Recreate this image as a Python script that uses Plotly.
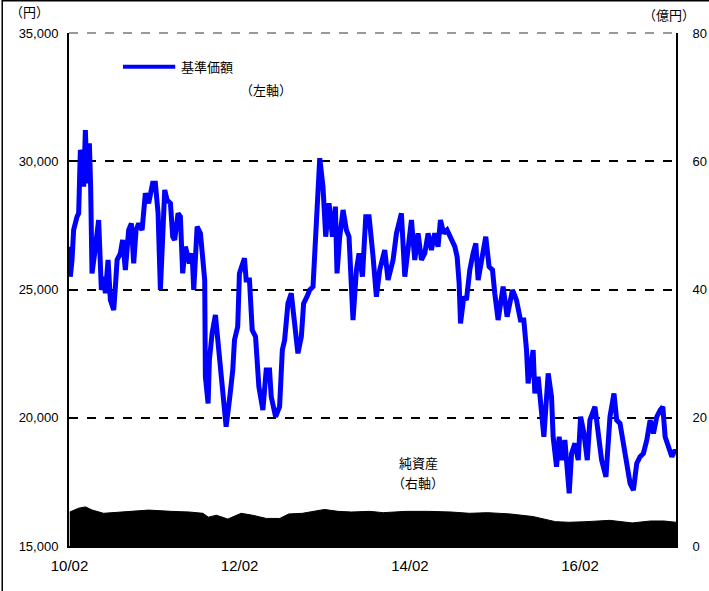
import pandas as pd
import plotly.graph_objects as go

# 基準価額 (left axis, 円); time as decimal years
nav_year = [
    2010.083, 2010.095, 2010.115, 2010.134, 2010.174, 2010.193, 2010.213, 2010.233, 2010.252, 2010.272,
    2010.292, 2010.319, 2010.334, 2010.350, 2010.381, 2010.409, 2010.428, 2010.460, 2010.487, 2010.507,
    2010.539, 2010.566, 2010.605, 2010.625, 2010.645, 2010.683, 2010.710, 2010.742, 2010.781, 2010.813,
    2010.840, 2010.868, 2010.899, 2010.939, 2010.977, 2011.016, 2011.063, 2011.095, 2011.127, 2011.154,
    2011.181, 2011.205, 2011.233, 2011.272, 2011.299, 2011.322, 2011.362, 2011.389, 2011.416, 2011.448,
    2011.495, 2011.527, 2011.546, 2011.586, 2011.625, 2011.652, 2011.675, 2011.683, 2011.715, 2011.730,
    2011.762, 2011.801, 2011.840, 2011.868, 2011.927, 2011.966, 2012.005, 2012.025, 2012.063, 2012.083,
    2012.115, 2012.142, 2012.162, 2012.201, 2012.233, 2012.272, 2012.311, 2012.358, 2012.397, 2012.436,
    2012.456, 2012.507, 2012.554, 2012.586, 2012.613, 2012.652, 2012.691, 2012.719, 2012.769, 2012.809,
    2012.836, 2012.875, 2012.907, 2012.946, 2012.974, 2012.993, 2013.025, 2013.063, 2013.095, 2013.134,
    2013.174, 2013.209, 2013.228, 2013.260, 2013.299, 2013.338, 2013.369, 2013.416, 2013.456, 2013.487,
    2013.527, 2013.566, 2013.605, 2013.652, 2013.691, 2013.730, 2013.789, 2013.828, 2013.887, 2013.927,
    2013.985, 2014.025, 2014.063, 2014.103, 2014.142, 2014.181, 2014.221, 2014.260, 2014.299, 2014.338,
    2014.377, 2014.416, 2014.444, 2014.483, 2014.522, 2014.574, 2014.613, 2014.640, 2014.664, 2014.680,
    2014.719, 2014.750, 2014.789, 2014.828, 2014.860, 2014.887, 2014.927, 2014.977, 2015.016, 2015.056,
    2015.083, 2015.122, 2015.181, 2015.228, 2015.291, 2015.338, 2015.385, 2015.424, 2015.456, 2015.475,
    2015.534, 2015.554, 2015.593, 2015.632, 2015.660, 2015.711, 2015.750, 2015.769, 2015.809, 2015.840,
    2015.868, 2015.907, 2015.958, 2015.986, 2016.025, 2016.064, 2016.092, 2016.131, 2016.170, 2016.201,
    2016.260, 2016.299, 2016.338, 2016.389, 2016.436, 2016.483, 2016.515, 2016.554, 2016.593, 2016.632,
    2016.672, 2016.711, 2016.750, 2016.789, 2016.828, 2016.868, 2016.907, 2016.946, 2016.985, 2017.025,
    2017.056, 2017.083, 2017.111, 2017.162, 2017.201, 2017.221,
]
nav = [
    26670, 25500, 26150, 27320, 27840, 27970, 30440, 30180, 29010, 31220,
    29140, 30700, 29010, 25630, 26410, 27450, 27710, 24980, 25500, 24850,
    26150, 24590, 24200, 25110, 26150, 26410, 26930, 25760, 27320, 27580,
    26020, 27320, 27580, 27320, 28750, 28360, 29140, 29140, 27970, 24980,
    26670, 28880, 28490, 28360, 27060, 26930, 27970, 27840, 25630, 26670,
    26020, 26410, 24980, 27450, 27190, 26150, 25370, 21600, 20560, 22250,
    23290, 24010, 22510, 21990, 19650, 20690, 21860, 23030, 23550, 25630,
    25890, 26220, 25370, 25370, 23420, 23160, 21210, 20300, 21860, 21860,
    20820, 20040, 20430, 22640, 23030, 24460, 24850, 24070, 22510, 23160,
    24460, 24720, 24980, 25110, 27190, 28100, 30120, 29010, 27060, 28360,
    27060, 28230, 25630, 27060, 28100, 27320, 27060, 23810, 25760, 26410,
    25500, 27840, 27840, 26280, 24720, 25760, 26540, 25370, 26150, 27190,
    27970, 25500, 26670, 27710, 26150, 27190, 26150, 26410, 27190, 26540,
    27190, 26670, 27710, 27190, 27320, 26930, 26670, 26280, 25240, 23680,
    24720, 24590, 25760, 26410, 26800, 25370, 26150, 27060, 25890, 25760,
    24850, 23810, 25110, 23940, 24980, 24590, 23810, 23810, 22640, 21340,
    22640, 20950, 21600, 20300, 19260, 21730, 20820, 19260, 18090, 19260,
    18350, 19130, 17050, 18610, 19000, 18350, 20040, 19390, 18350, 19910,
    20430, 19390, 18350, 17700, 20040, 20950, 19910, 19780, 19000, 18350,
    17440, 17180, 18220, 18480, 18610, 19130, 19910, 19390, 20040, 20300,
    20430, 19260, 19000, 18480, 18740, 18610,
]

# 純資産 (right axis, 億円)
asset_year = [
    2010.088, 2010.194, 2010.273, 2010.353, 2010.486, 2010.699, 2011.016, 2011.282, 2011.494, 2011.654,
    2011.718, 2011.813, 2011.946, 2012.104, 2012.237, 2012.397, 2012.556, 2012.662, 2012.822, 2013.081,
    2013.241, 2013.400, 2013.612, 2013.772, 2014.036, 2014.302, 2014.568, 2014.787, 2014.998, 2015.264,
    2015.530, 2015.795, 2015.954, 2016.167, 2016.433, 2016.697, 2016.910, 2017.069, 2017.213,
]
assets = [
    5.3, 5.9, 6.1, 5.6, 5.1, 5.3, 5.6, 5.4, 5.3, 5.1,
    4.5, 4.8, 4.2, 5.1, 4.8, 4.3, 4.3, 5.0, 5.1, 5.7,
    5.4, 5.3, 5.4, 5.2, 5.4, 5.4, 5.3, 5.1, 5.2, 5.0,
    4.6, 3.8, 3.7, 3.8, 4.0, 3.6, 3.9, 3.9, 3.7,
]

x_ticks = ["2010-02-01", "2012-02-01", "2014-02-01", "2016-02-01"]
x_ticktext = ["10/02", "12/02", "14/02", "16/02"]
y_ticks = [15000, 20000, 25000, 30000, 35000]
y2_ticks = [0, 20, 40, 60, 80]


def to_dates(years):
    out = []
    for v in years:
        y = int(v)
        start = pd.Timestamp(year=y, month=1, day=1)
        days = (pd.Timestamp(year=y + 1, month=1, day=1) - start).days
        out.append(start + pd.Timedelta(days=(v - y) * days))
    return out


nav_dates = to_dates(nav_year)
asset_dates = to_dates(asset_year)

TICK_FONT = dict(family="Liberation Sans, Arial", size=13, color="#000000")
XTICK_FONT = dict(family="Liberation Sans, Arial", size=15, color="#000000")
JP_FONT = dict(family="Noto Sans CJK JP", size=13, color="#000000")

fig = go.Figure()

fig.add_trace(go.Scatter(
    x=asset_dates, y=assets, yaxis="y2", mode="lines",
    line=dict(color="#000000", width=1, shape="linear"),
    fill="tozeroy", fillcolor="#000000", showlegend=False,
))

fig.add_trace(go.Scatter(
    x=nav_dates, y=nav, mode="lines",
    line=dict(color="#0000ff", width=5), showlegend=False,
))

fig.update_layout(
    width=709, height=591,
    paper_bgcolor="#ffffff", plot_bgcolor="#ffffff",
    margin=dict(l=69, r=33, t=33, b=45),
    xaxis=dict(
        type="date",
        range=["2010-01-30", "2017-03-19"],
        tickvals=x_ticks, ticktext=x_ticktext,
        showgrid=False, showline=True, linecolor="#000000", linewidth=2,
        ticks="", tickfont=XTICK_FONT, zeroline=False, automargin=False,
        ticklabelstandoff=5,
    ),
    yaxis=dict(
        range=[15000, 35000], tickvals=y_ticks,
        ticktext=[f"{v:,}" for v in y_ticks],
        showgrid=True, gridcolor="#000000", gridwidth=2, griddash="dash",
        showline=True, linecolor="#000000", linewidth=2,
        ticks="", tickfont=TICK_FONT, zeroline=False, automargin=False,
        ticklabelstandoff=6,
    ),
    yaxis2=dict(
        range=[0, 80], tickvals=y2_ticks, overlaying="y", side="right",
        showgrid=False, showline=True, linecolor="#000000", linewidth=2,
        ticks="", tickfont=TICK_FONT, zeroline=False, automargin=False,
        ticklabelstandoff=12,
    ),
    shapes=[
        # top edge: grey dashed border
        dict(type="line", xref="paper", yref="paper", x0=0, x1=1, y0=1, y1=1,
             line=dict(color="#ffffff", width=3)),
        dict(type="line", xref="paper", yref="paper", x0=0, x1=1, y0=1, y1=1,
             line=dict(color="#999999", width=2, dash="dash")),
        # outer frame of the picture
        dict(type="rect", xref="paper", yref="paper", x0=-0.11, x1=1.2, y0=-0.3, y1=1.063,
             line=dict(color="#000000", width=1.5)),
        # legend sample line
        dict(type="line", xref="paper", yref="paper", x0=0.089, x1=0.175, y0=0.934, y1=0.934,
             line=dict(color="#0000ff", width=4)),
    ],
    annotations=[
        dict(text="（円）", xref="paper", yref="paper", x=-0.1, y=1.041,
             xanchor="left", yanchor="middle", showarrow=False, font=JP_FONT),
        dict(text="（億円）", xref="paper", yref="paper", x=0.943, y=1.037,
             xanchor="left", yanchor="middle", showarrow=False, font=JP_FONT),
        dict(text="基準価額", xref="paper", yref="paper", x=0.181, y=0.934,
             xanchor="left", yanchor="middle", showarrow=False, font=JP_FONT),
        dict(text="（左軸）", xref="paper", yref="paper", x=0.278, y=0.889,
             xanchor="left", yanchor="middle", showarrow=False, font=JP_FONT),
        dict(text="純資産", xref="paper", yref="paper", x=0.575, y=0.162,
             xanchor="center", yanchor="middle", showarrow=False, font=JP_FONT),
        dict(text="（右軸）", xref="paper", yref="paper", x=0.575, y=0.123,
             xanchor="center", yanchor="middle", showarrow=False, font=JP_FONT),
    ],
)

fig.write_html("out.html", config={"displayModeBar": False},
               post_script="document.body.style.margin='0px';")
